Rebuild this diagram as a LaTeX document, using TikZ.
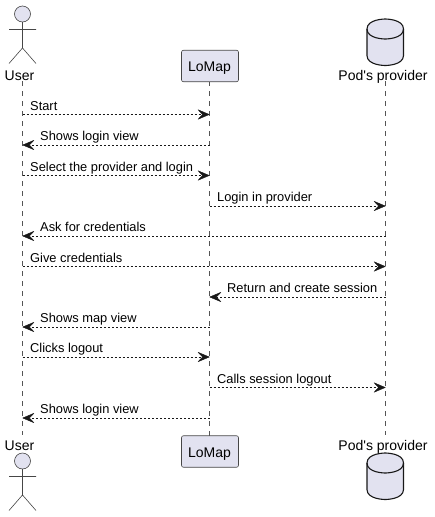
\documentclass[tikz,border=0pt]{standalone}
\usepackage{fontspec}
\setmainfont{Liberation Sans}
\usetikzlibrary{arrows.meta}
\definecolor{pfill}{HTML}{E2E2F0}
\definecolor{pline}{HTML}{181818}
\definecolor{lifeg}{HTML}{555555}
\tikzset{
  x=1pt,y=-1pt,
  msgline/.style={draw=pline,line width=0.8pt,dash pattern=on 2pt off 2pt,-{Stealth[length=12.5pt,width=10.5pt,inset=5pt,color=pline,line width=0.4pt,round]}},
  lifeline/.style={draw=lifeg,line width=0.6pt,dash pattern=on 5pt off 5pt},
  msglabel/.style={anchor=base west,inner sep=0pt,font=\fontsize{12.85pt}{14pt}\selectfont,text=black},
  partname/.style={anchor=base,inner sep=0pt,font=\fontsize{14pt}{16pt}\selectfont,text=black},
  partbox/.style={draw=pline!80,fill=pfill,line width=0.6pt,rounded corners=2pt,minimum width=57pt,minimum height=31.5pt,inner sep=0pt},
  boxtext/.style={anchor=base,inner sep=0pt,font=\fontsize{14pt}{16pt}\selectfont,text=black},
  actorshape/.style={draw=pline!80,fill=pfill,line width=0.6pt},
  dbshape/.style={draw=pline,fill=pfill,line width=1.1pt},
}
\newcommand{\actorfig}[1]{%
  \draw[actorshape] (22.5,#1) circle (8);
  \draw[actorshape,fill=none] (22.5,#1+8) -- (22.5,#1+34) (9,#1+15.5) -- (36,#1+15.5)
    (9,#1+49.5) -- (22.5,#1+34) -- (36,#1+49.5);
}
\newcommand{\dbfig}[1]{%
  \draw[dbshape] (367,#1+10) .. controls (367,#1) and (385.25,#1) .. (385.25,#1)
    .. controls (385.25,#1) and (403.5,#1) .. (403.5,#1+10)
    -- (403.5,#1+36.5) .. controls (403.5,#1+46.5) and (385.25,#1+46.5) .. (385.25,#1+46.5)
    .. controls (385.25,#1+46.5) and (367,#1+46.5) .. (367,#1+36.5) -- cycle;
  \draw[dbshape,fill=none] (367,#1+10) .. controls (367,#1+20) and (385.25,#1+20) .. (385.25,#1+20)
    .. controls (385.25,#1+20) and (403.5,#1+20) .. (403.5,#1+10);
}
\begin{document}
\begin{tikzpicture}
\useasboundingbox (0,0) rectangle (434,517);
% lifeline ends
\coordinate (ut) at (22.5,81);  \coordinate (ub) at (22.5,435);
\coordinate (pt) at (385.5,81); \coordinate (pb) at (385.5,435);
\coordinate (lt0) at (209.5,81); \coordinate (lb0) at (209.5,435.5);
\draw[lifeline] (ut) -- (ub);
\draw[lifeline] (lt0) -- (lb0);
\draw[lifeline] (pt) -- (pb);
% participants
\node[partbox] (lt) at (210,66) {};
\node[boxtext] (ltt) at (209.5,71) {LoMap};
\node[partbox] (lb) at (210,451.5) {};
\node[boxtext] (lbt) at (209.5,457) {LoMap};
\actorfig{14}
\actorfig{461}
\dbfig{19}
\dbfig{453}
\node[partname] (un1) at (19.5,80) {User};
\node[partname] (un2) at (19.5,450) {User};
\node[partname] (pn1) at (383,80) {Pod\textquotesingle s provider};
\node[partname] (pn2) at (383,450) {Pod\textquotesingle s provider};
% message end points
\foreach \n/\y in {1/114.5,2/145,3/175.5,4/206,5/236,6/266.5,7/297,8/327,9/357,10/387.5,11/418}{
  \coordinate (u\n) at (22.5,\y);
  \coordinate (l\n) at (209.5,\y);
  \coordinate (p\n) at (385.5,\y);
}
\draw[msgline] (u1) -- (l1);
\draw[msgline] (l2) -- (u2);
\draw[msgline] (u3) -- (l3);
\draw[msgline] (l4) -- (p4);
\draw[msgline] (p5) -- (u5);
\draw[msgline] (u6) -- (p6);
\draw[msgline] (p7) -- (l7);
\draw[msgline] (l8) -- (u8);
\draw[msgline] (u9) -- (l9);
\draw[msgline] (l10) -- (p10);
\draw[msgline] (l11) -- (u11);
\node[msglabel] (t1) at (30,110) {Start};
\node[msglabel] (t2) at (40,140.5) {Shows login view};
\node[msglabel] (t3) at (30,171) {Select the provider and login};
\node[msglabel] (t4) at (217,201.5) {Login in provider};
\node[msglabel] (t5) at (40,231.5) {Ask for credentials};
\node[msglabel] (t6) at (30,262) {Give credentials};
\node[msglabel] (t7) at (227,292.5) {Return and create session};
\node[msglabel] (t8) at (40,322.5) {Shows map view};
\node[msglabel] (t9) at (30,352.5) {Clicks logout};
\node[msglabel] (t10) at (217,383) {Calls session logout};
\node[msglabel] (t11) at (40,413.5) {Shows login view};
\end{tikzpicture}
\end{document}
